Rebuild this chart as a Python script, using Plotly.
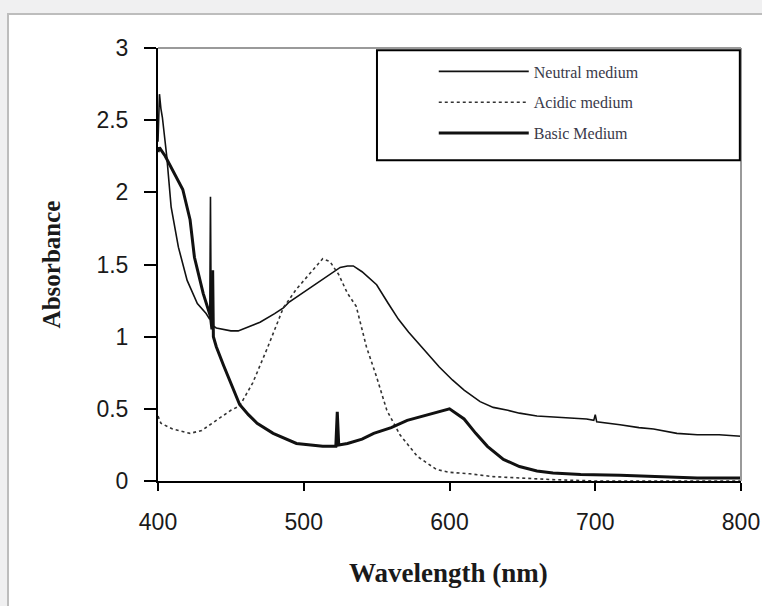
import plotly.graph_objects as go

# ---- data ----
neutral_wl = [400, 401, 402, 403, 406, 409, 414, 420, 427, 433, 435.5, 436, 436.5, 437, 440, 445, 450,
              455, 460, 470, 480, 486, 490, 500, 510, 520, 525, 530, 534, 540, 550, 558, 565, 572,
              580, 593, 602, 610, 621, 630, 640, 648, 660, 680, 694, 699, 700, 701, 710, 717, 730,
              740, 756, 770, 785, 800]
neutral_abs = [2.35, 2.68, 2.58, 2.52, 2.25, 1.90, 1.62, 1.39, 1.23, 1.16, 1.12, 1.97, 1.10, 1.08, 1.06,
               1.05, 1.04, 1.04, 1.06, 1.10, 1.16, 1.20, 1.24, 1.31, 1.38, 1.45, 1.48, 1.49, 1.49,
               1.45, 1.36, 1.23, 1.12, 1.03, 0.94, 0.79, 0.70, 0.63, 0.55, 0.51, 0.49, 0.47, 0.45,
               0.44, 0.43, 0.42, 0.46, 0.41, 0.40, 0.39, 0.37, 0.36, 0.33, 0.32, 0.32, 0.31]

acidic_wl = [400, 402, 410, 422, 430, 440, 450, 456, 465, 475, 486, 495, 505, 513, 518, 524, 530,
             536, 543, 550, 557, 566, 578, 591, 600, 614, 630, 648, 670, 700, 750, 800]
acidic_abs = [0.45, 0.40, 0.36, 0.33, 0.35, 0.42, 0.49, 0.52, 0.68, 0.92, 1.20, 1.33, 1.45, 1.54,
              1.52, 1.43, 1.30, 1.21, 0.93, 0.72, 0.49, 0.32, 0.17, 0.08, 0.06, 0.05, 0.03, 0.02,
              0.01, 0.0, 0.0, 0.0]

basic_wl = [400, 401, 405, 410, 417, 422, 425, 431, 436, 437, 437.5, 438, 440, 445, 450, 456, 462,
            468, 479, 495, 513, 522, 523, 523.5, 524, 530, 540, 548, 560, 571, 582, 593, 600,
            610, 618, 626, 637, 648, 660, 671, 690, 717, 740, 770, 800]
basic_abs = [2.28, 2.31, 2.25, 2.15, 2.02, 1.81, 1.55, 1.30, 1.14, 1.05, 1.46, 1.00, 0.93, 0.80,
             0.68, 0.53, 0.46, 0.40, 0.33, 0.26, 0.24, 0.24, 0.48, 0.27, 0.25, 0.26, 0.29, 0.33,
             0.37, 0.42, 0.45, 0.48, 0.50, 0.43, 0.33, 0.24, 0.15, 0.10, 0.07, 0.055, 0.045, 0.04,
             0.03, 0.02, 0.02]

series_names = ["Neutral medium", "Acidic medium", "Basic Medium"]
x_ticks = [400, 500, 600, 700, 800]
y_ticks = [0, 0.5, 1, 1.5, 2, 2.5, 3]
y_tick_labels = ["0", "0.5", "1", "1.5", "2", "2.5", "3"]

fig = go.Figure()
fig.add_trace(go.Scatter(x=neutral_wl, y=neutral_abs, mode="lines", name=series_names[0],
                         legendgroup="n", line=dict(color="#111111", width=1.6)))
fig.add_trace(go.Scatter(x=acidic_wl, y=acidic_abs, mode="lines", name=series_names[1],
                         legendgroup="a", line=dict(color="#333333", width=1.6, dash="dot")))
fig.add_trace(go.Scatter(x=basic_wl, y=basic_abs, mode="lines", name=series_names[2],
                         legendgroup="b", line=dict(color="#111111", width=3)))

tick_font = dict(family="Liberation Sans, Arial, sans-serif", size=23, color="#1a1a1a")
title_font = dict(family="Liberation Serif, Times New Roman, serif", size=25, color="#1a1a1a")

fig.update_layout(
    width=762, height=606,
    margin=dict(l=158, r=21, t=48, b=125),
    paper_bgcolor="#f0f0f1",
    plot_bgcolor="white",
    showlegend=True,
    legend=dict(x=0.473, y=0.985, xanchor="left", yanchor="top",
                bgcolor="rgba(0,0,0,0)", borderwidth=0,
                font=dict(family="Liberation Serif, Times New Roman, serif", size=16, color="#3a3a4a"),
                itemwidth=90, tracegroupgap=7, traceorder="grouped"),
    xaxis=dict(range=[400, 800], tickvals=x_ticks, ticks="outside", ticklen=8, tickwidth=1.5,
               tickcolor="black", showline=True, linecolor="black", linewidth=2,
               showgrid=False, zeroline=False, tickfont=tick_font, ticklabelstandoff=11,
               automargin=False),
    yaxis=dict(range=[0, 3], tickvals=y_ticks, ticktext=y_tick_labels, ticks="outside",
               ticklen=12, tickwidth=1.5, tickcolor="black", showline=True, linecolor="black",
               linewidth=2, showgrid=False, zeroline=False, tickfont=tick_font,
               ticklabelstandoff=11, automargin=False),
    shapes=[
        # white panel
        dict(type="rect", xref="paper", yref="paper", x0=-0.2573, x1=1.06, y0=-0.32, y1=1.0785,
             fillcolor="white", line=dict(color="#bdbdbd", width=2), layer="below"),
        # gray top and right frame of plot area
        dict(type="line", xref="paper", yref="paper", x0=0, x1=1, y0=1, y1=1,
             line=dict(color="#9a9a9a", width=2)),
        dict(type="line", xref="paper", yref="paper", x0=1, x1=1, y0=0, y1=1,
             line=dict(color="#9a9a9a", width=2)),
        # legend box
        dict(type="rect", xref="paper", yref="paper", x0=0.3756, x1=0.998, y0=0.741, y1=0.995,
             line=dict(color="black", width=2), fillcolor="rgba(0,0,0,0)"),
    ],
    annotations=[
        dict(text="<b>Absorbance</b>", xref="paper", yref="paper", x=-0.182, y=0.5,
             textangle=-90, showarrow=False, font=title_font, xanchor="center", yanchor="middle"),
        dict(text="<b>Wavelength (nm)</b>", xref="paper", yref="paper", x=0.499, y=-0.2125,
             showarrow=False, font=dict(title_font, size=27), xanchor="center", yanchor="middle"),
    ],
)

fig.write_html("out.html", config={"displayModeBar": False},
               post_script="document.body.style.margin='0px';document.body.style.background='#f0f0f1';")
